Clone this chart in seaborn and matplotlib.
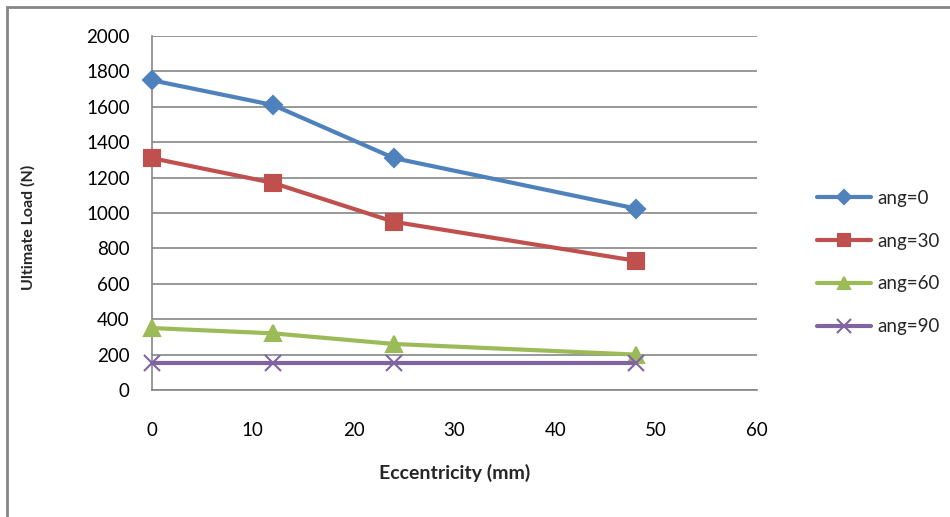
import matplotlib
matplotlib.use("Agg")
import matplotlib.pyplot as plt
import seaborn as sns
import pandas as pd
from matplotlib.patches import Rectangle

eccentricity = [0, 12, 24, 48]
ang0 = [1750, 1610, 1310, 1025]
ang30 = [1310, 1170, 950, 730]
ang60 = [350, 320, 260, 200]
ang90 = [150, 150, 150, 150]
series_names = ["ang=0", "ang=30", "ang=60", "ang=90"]
x_ticks = [0, 10, 20, 30, 40, 50, 60]
y_ticks = list(range(0, 2001, 200))

rows = []
for name, vals in zip(series_names, [ang0, ang30, ang60, ang90]):
    for x, v in zip(eccentricity, vals):
        rows.append({"Eccentricity": x, "Load": v, "series": name})
df = pd.DataFrame(rows)

sns.set_theme(style="white")
plt.rcParams["font.family"] = ["Lato", "DejaVu Sans"]

colors = {"ang=0": "#4F81BD", "ang=30": "#C0504D", "ang=60": "#9BBB59", "ang=90": "#8064A2"}
markers = {"ang=0": "D", "ang=30": "s", "ang=60": "^", "ang=90": "x"}
msizes = {"ang=0": 9, "ang=30": 11, "ang=60": 11, "ang=90": 12}

fig = plt.figure(figsize=(9.5, 5.17), dpi=100)
ax = fig.add_axes([152/950, 1-390/517, (757-152)/950, (390-36)/517])

for name in series_names:
    sub = df[df["series"] == name]
    sns.lineplot(data=sub, x="Eccentricity", y="Load", ax=ax, color=colors[name],
                 marker=markers[name], markersize=msizes[name], linewidth=3,
                 markeredgewidth=1.5,
                 markeredgecolor=colors[name], label=name, clip_on=False, zorder=3)

ax.set_xlim(0, 60)
ax.set_ylim(0, 2000)
ax.set_xticks(x_ticks)
ax.set_yticks(y_ticks)
ax.yaxis.grid(True, color="#868686", linewidth=1.2)
ax.xaxis.grid(False)
for s in ["top", "right"]:
    ax.spines[s].set_visible(False)
for s in ["left", "bottom"]:
    ax.spines[s].set_color("#868686")
    ax.spines[s].set_linewidth(1.2)
ax.tick_params(axis="both", length=0, labelsize=13.5, colors="black")
ax.tick_params(axis="x", pad=23)
ax.tick_params(axis="y", pad=16)
ax.set_xlabel("Eccentricity (mm)", fontsize=14, fontweight="bold")
ax.set_ylabel("Ultimate Load (N)", fontsize=11.5, fontweight="bold")
ax.xaxis.set_label_coords((455-152)/605, -(473-390)/354)
ax.yaxis.set_label_coords((28-152)/605, (390-227)/354)
ax.xaxis.label.set_va("center")
ax.yaxis.label.set_va("center")

leg = ax.legend(loc="center left", bbox_to_anchor=(800/950, 1-262.5/517), bbox_transform=fig.transFigure,
                frameon=False, fontsize=13.5, handlelength=2.9, labelspacing=1.38, handletextpad=0.32,
                markerscale=0.8)

fig.patches.append(Rectangle((7/950, -0.1), 1.2, 1-7/517+0.1, transform=fig.transFigure,
                             fill=False, edgecolor="#868686", linewidth=2))

fig.savefig("out.png", dpi=100)
